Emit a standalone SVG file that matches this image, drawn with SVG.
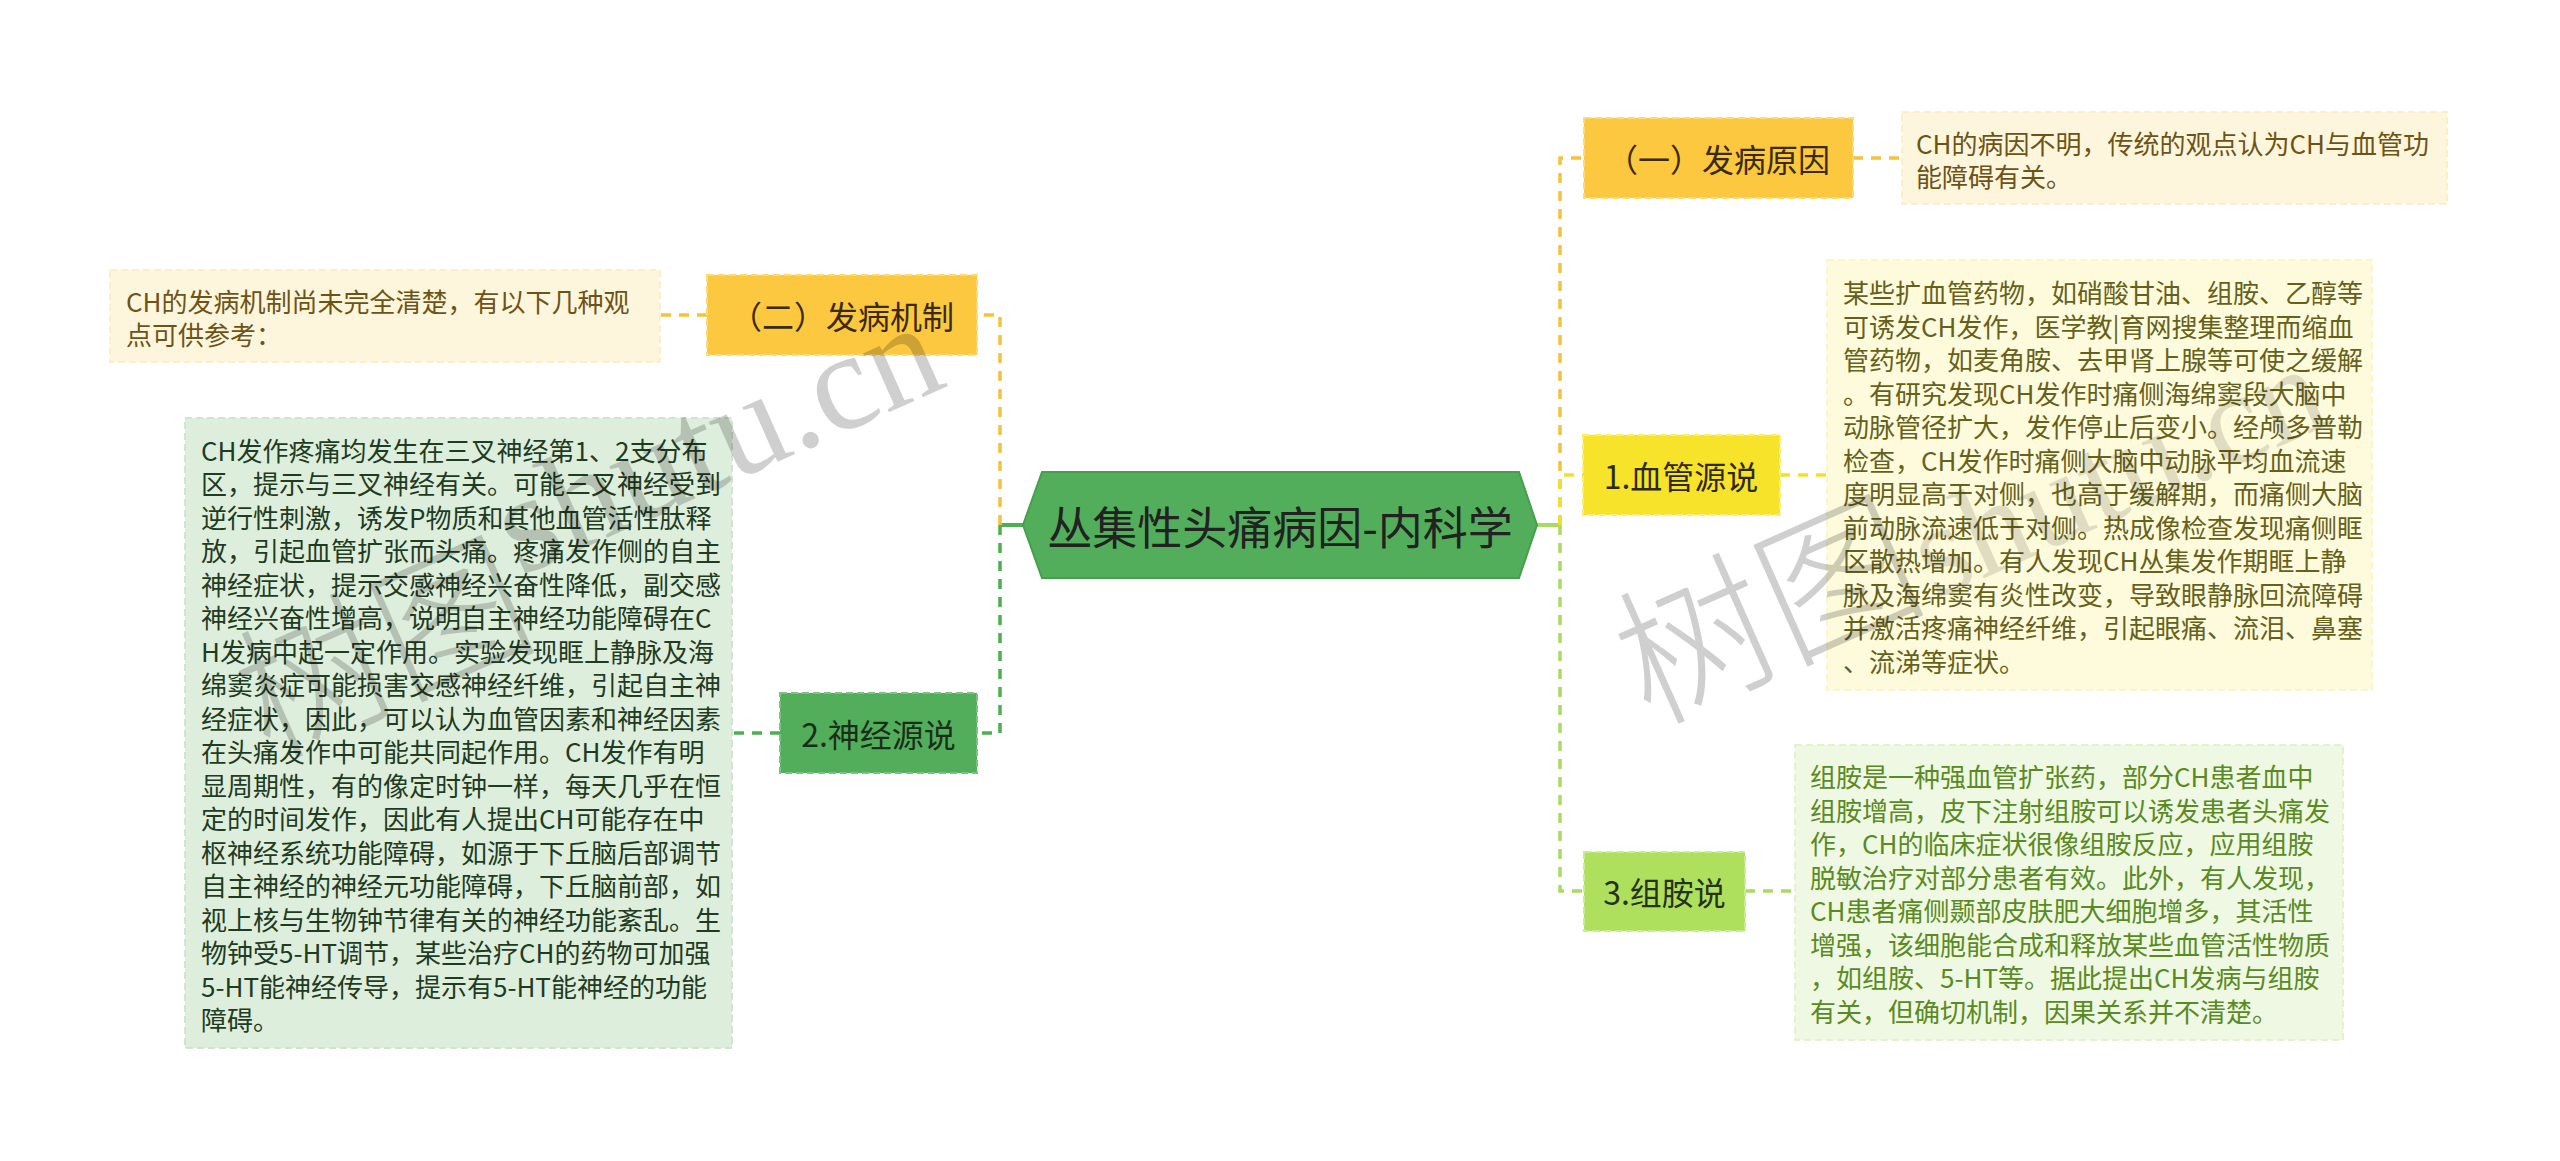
<svg xmlns="http://www.w3.org/2000/svg" width="2560" height="1161" viewBox="0 0 2560 1161">
<style>
text{font-family:'Noto Sans CJK SC','Noto Sans',sans-serif;dominant-baseline:central}
.t32{font-size:32px;text-anchor:middle}
.d26{font-size:26px}
.c{fill:none;stroke-width:3.5;stroke-dasharray:10 8}
.amber{stroke:#f5c33b}
.yel{stroke:#f1df2e}
.lg{stroke:#a9da62}
.gr{stroke:#4caf50}
.nb{stroke-width:2;stroke-dasharray:7 4}
.wm{font-family:'Liberation Serif','Noto Sans CJK SC',serif;fill:#000;fill-opacity:0.19;dominant-baseline:alphabetic}
.wmc{font-family:'Noto Sans CJK SC',serif;font-weight:300;fill:#000;fill-opacity:0.19;dominant-baseline:alphabetic}
</style>
<rect width="2560" height="1161" fill="#ffffff"/>
<g id="connectors">
  <path d="M1023,525 H1000" fill="none" stroke="#4caf50" stroke-width="4"/>
  <path class="c amber" d="M1000,525 V315 H977"/>
  <path class="c gr" d="M1000,525 V733 H977"/>
  <path class="c amber" d="M707,315 H660"/>
  <path class="c gr" d="M780,733 H732"/>
  <path d="M1537,525 H1560" fill="none" stroke="#a9da62" stroke-width="4"/>
  <path class="c amber" d="M1560,525 V158 H1584"/>
  <path class="c yel" d="M1560,525 V475 H1583"/>
  <path class="c lg" d="M1560,525 V891 H1584"/>
  <path class="c amber" d="M1853,158 H1902"/>
  <path class="c yel" d="M1780,475 H1827"/>
  <path class="c lg" d="M1745,891 H1795"/>
</g>
<g id="node-center">
  <polygon points="1023,525 1042,472 1519,472 1537,525 1519,578 1042,578" fill="#52ae5a" stroke="#43a04c" stroke-width="2"/>
  <text x="1280" y="525" font-size="45" text-anchor="middle" fill="#222">丛集性头痛病因-内科学</text>
</g>
<g id="node-yiyuan">
  <rect class="nb" x="1584" y="118" width="269" height="80" fill="#fbc83f" stroke="#fdd978"/>
  <text class="t32" x="1718" y="158" fill="#3b2a05">（一）发病原因</text>
</g>
<g id="desc-yiyuan">
  <rect class="nb" x="1902" y="112" width="545" height="92" fill="#fdf6dc" stroke="#fbefcb"/>
  <text class="d26" fill="#6d5316"><tspan x="1916" y="141.5">CH的病因不明，传统的观点认为CH与血管功</tspan><tspan x="1916" y="175">能障碍有关。</tspan></text>
</g>
<g id="node-xueguan">
  <rect class="nb" x="1583" y="435" width="197" height="80" fill="#f8e32b" stroke="#fbed78"/>
  <text class="t32" x="1681" y="475" fill="#2e2a10">1.血管源说</text>
</g>
<g id="desc-xueguan">
  <rect class="nb" x="1827" y="260" width="545" height="430" fill="#fefbdd" stroke="#fbf6c8"/>
  <text class="d26" fill="#66611a">
    <tspan x="1843" y="291">某些扩血管药物，如硝酸甘油、组胺、乙醇等</tspan>
    <tspan x="1843" y="324.5">可诱发CH发作，医学教|育网搜集整理而缩血</tspan>
    <tspan x="1843" y="358">管药物，如麦角胺、去甲肾上腺等可使之缓解</tspan>
    <tspan x="1843" y="391.5">。有研究发现CH发作时痛侧海绵窦段大脑中</tspan>
    <tspan x="1843" y="425">动脉管径扩大，发作停止后变小。经颅多普勒</tspan>
    <tspan x="1843" y="458.5">检查，CH发作时痛侧大脑中动脉平均血流速</tspan>
    <tspan x="1843" y="492">度明显高于对侧，也高于缓解期，而痛侧大脑</tspan>
    <tspan x="1843" y="525.5">前动脉流速低于对侧。热成像检查发现痛侧眶</tspan>
    <tspan x="1843" y="559">区散热增加。有人发现CH丛集发作期眶上静</tspan>
    <tspan x="1843" y="592.5">脉及海绵窦有炎性改变，导致眼静脉回流障碍</tspan>
    <tspan x="1843" y="626">并激活疼痛神经纤维，引起眼痛、流泪、鼻塞</tspan>
    <tspan x="1843" y="659.5">、流涕等症状。</tspan>
  </text>
</g>
<g id="node-zuan">
  <rect class="nb" x="1584" y="852" width="161" height="79" fill="#aee05e" stroke="#c8ec92"/>
  <text class="t32" x="1664.5" y="891" fill="#26331a">3.组胺说</text>
</g>
<g id="desc-zuan">
  <rect class="nb" x="1795" y="745" width="548" height="295" fill="#eff8e2" stroke="#e2f2cc"/>
  <text class="d26" fill="#5a8a22">
    <tspan x="1810" y="775">组胺是一种强血管扩张药，部分CH患者血中</tspan>
    <tspan x="1810" y="808.5">组胺增高，皮下注射组胺可以诱发患者头痛发</tspan>
    <tspan x="1810" y="842">作，CH的临床症状很像组胺反应，应用组胺</tspan>
    <tspan x="1810" y="875.5">脱敏治疗对部分患者有效。此外，有人发现，</tspan>
    <tspan x="1810" y="909">CH患者痛侧颞部皮肤肥大细胞增多，其活性</tspan>
    <tspan x="1810" y="942.5">增强，该细胞能合成和释放某些血管活性物质</tspan>
    <tspan x="1810" y="976">，如组胺、5-HT等。据此提出CH发病与组胺</tspan>
    <tspan x="1810" y="1009.5">有关，但确切机制，因果关系并不清楚。</tspan>
  </text>
</g>
<g id="node-jizhi">
  <rect class="nb" x="707" y="275" width="270" height="80" fill="#fbc83f" stroke="#fdd978"/>
  <text class="t32" x="842" y="315" fill="#3b2a05">（二）发病机制</text>
</g>
<g id="desc-jizhi">
  <rect class="nb" x="110" y="270" width="550" height="92" fill="#fdf6dc" stroke="#fbefcb"/>
  <text class="d26" fill="#6d5316"><tspan x="126" y="299.5">CH的发病机制尚未完全清楚，有以下几种观</tspan><tspan x="126" y="333">点可供参考：</tspan></text>
</g>
<g id="node-shenjing">
  <rect class="nb" x="780" y="693" width="197" height="80" fill="#53ae5b" stroke="#7cc382"/>
  <text class="t32" x="878.5" y="733" fill="#1a2e1a">2.神经源说</text>
</g>
<g id="desc-shenjing">
  <rect class="nb" x="185" y="418" width="547" height="630" fill="#deeedd" stroke="#cfe5ce"/>
  <text class="d26" fill="#1f3b22">
    <tspan x="201" y="448.5">CH发作疼痛均发生在三叉神经第1、2支分布</tspan>
    <tspan x="201" y="482">区，提示与三叉神经有关。可能三叉神经受到</tspan>
    <tspan x="201" y="515.5">逆行性刺激，诱发P物质和其他血管活性肽释</tspan>
    <tspan x="201" y="549">放，引起血管扩张而头痛。疼痛发作侧的自主</tspan>
    <tspan x="201" y="582.5">神经症状，提示交感神经兴奋性降低，副交感</tspan>
    <tspan x="201" y="616">神经兴奋性增高，说明自主神经功能障碍在C</tspan>
    <tspan x="201" y="649.5">H发病中起一定作用。实验发现眶上静脉及海</tspan>
    <tspan x="201" y="683">绵窦炎症可能损害交感神经纤维，引起自主神</tspan>
    <tspan x="201" y="716.5">经症状，因此，可以认为血管因素和神经因素</tspan>
    <tspan x="201" y="750">在头痛发作中可能共同起作用。CH发作有明</tspan>
    <tspan x="201" y="783.5">显周期性，有的像定时钟一样，每天几乎在恒</tspan>
    <tspan x="201" y="817">定的时间发作，因此有人提出CH可能存在中</tspan>
    <tspan x="201" y="850.5">枢神经系统功能障碍，如源于下丘脑后部调节</tspan>
    <tspan x="201" y="884">自主神经的神经元功能障碍，下丘脑前部，如</tspan>
    <tspan x="201" y="917.5">视上核与生物钟节律有关的神经功能紊乱。生</tspan>
    <tspan x="201" y="951">物钟受5-HT调节，某些治疗CH的药物可加强</tspan>
    <tspan x="201" y="984.5">5-HT能神经传导，提示有5-HT能神经的功能</tspan>
    <tspan x="201" y="1018">障碍。</tspan>
  </text>
</g>
<g id="watermark">
  <text class="wmc" font-size="150" transform="translate(542,637) rotate(-24)" text-anchor="end">树图</text>
  <text class="wm" font-size="140" transform="translate(950,385) rotate(-24)" text-anchor="end">shutu.cn</text>
  <text class="wmc" font-size="155" transform="translate(1790,662) rotate(-24)" text-anchor="middle">树图</text>
  <text class="wm" font-size="130" fill-opacity="0.12" transform="translate(1935,600) rotate(-24)" style="fill-opacity:0.12">shutu.cn</text>
</g>
</svg>
